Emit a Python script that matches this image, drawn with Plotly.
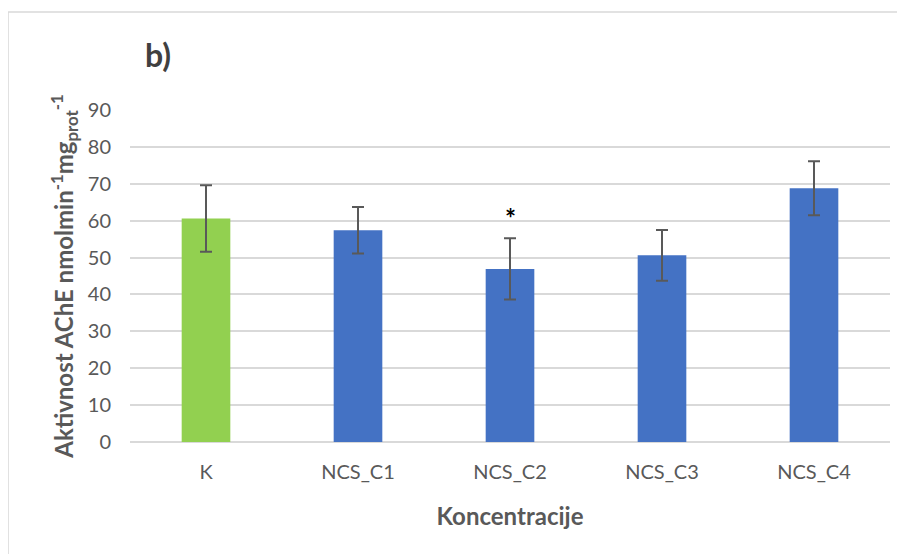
import plotly.graph_objects as go

categories = ["K", "NCS_C1", "NCS_C2", "NCS_C3", "NCS_C4"]
values = [60.6, 57.4, 46.9, 50.6, 68.8]
errors = [9.0, 6.3, 8.3, 6.9, 7.3]
bar_colors = ["#92D050", "#4472C4", "#4472C4", "#4472C4", "#4472C4"]
star_category = "NCS_C2"
star_value = 62.4
y_ticks = [0, 10, 20, 30, 40, 50, 60, 70, 80, 90]

FONT = "Lato, Calibri, sans-serif"
GREY = "#595959"

fig = go.Figure()
fig.add_trace(go.Bar(
    x=categories, y=values,
    marker=dict(color=bar_colors, line=dict(width=0)),
    width=0.32,
    error_y=dict(type="data", array=errors, visible=True, color=GREY, thickness=2, width=6),
    showlegend=False,
))

fig.add_annotation(x=star_category, y=star_value, text="<b>*</b>", showarrow=False, yshift=-6,
                   font=dict(size=26, color="black", family=FONT), xref="x", yref="y")
fig.add_annotation(x=0.037, y=1.166, xref="paper", yref="paper", text="<b>b)</b>", showarrow=False,
                   xanchor="center", yanchor="middle",
                   font=dict(size=32, color="#404040", family=FONT))

# outer chart border (top and left)
fig.add_shape(type="line", xref="paper", yref="paper", x0=-0.1605, x1=1.03, y0=1.295, y1=1.295,
              line=dict(color="#d9d9d9", width=1.5))
fig.add_shape(type="line", xref="paper", yref="paper", x0=-0.1605, x1=-0.1605, y0=1.295, y1=-0.4,
              line=dict(color="#d9d9d9", width=1.5))

fig.update_layout(
    width=897, height=546,
    margin=dict(l=122, r=15, t=102, b=112),
    plot_bgcolor="white", paper_bgcolor="white",
    font=dict(family=FONT, color=GREY, size=20),
    xaxis=dict(
        title=dict(text="<b>Koncentracije</b>", font=dict(size=24, color=GREY), standoff=26),
        showgrid=False, showline=False, ticks="", ticklabelstandoff=16,
        tickfont=dict(size=20, color=GREY),
    ),
    yaxis=dict(
        title=dict(text="<b>Aktivnost AChE nmolmin<sup>-1</sup>mg<sub>prot</sub><sup>-1</sup></b>",
                   font=dict(size=24, color=GREY), standoff=7),
        range=[0, 90], tickvals=y_ticks, showgrid=True, gridcolor="#d9d9d9", gridwidth=1.5,
        zeroline=True, zerolinecolor="#d9d9d9", zerolinewidth=1.5, showline=False, ticks="",
        ticklabelstandoff=18, tickfont=dict(size=20, color=GREY),
    ),
)

fig.write_html("out.html")
